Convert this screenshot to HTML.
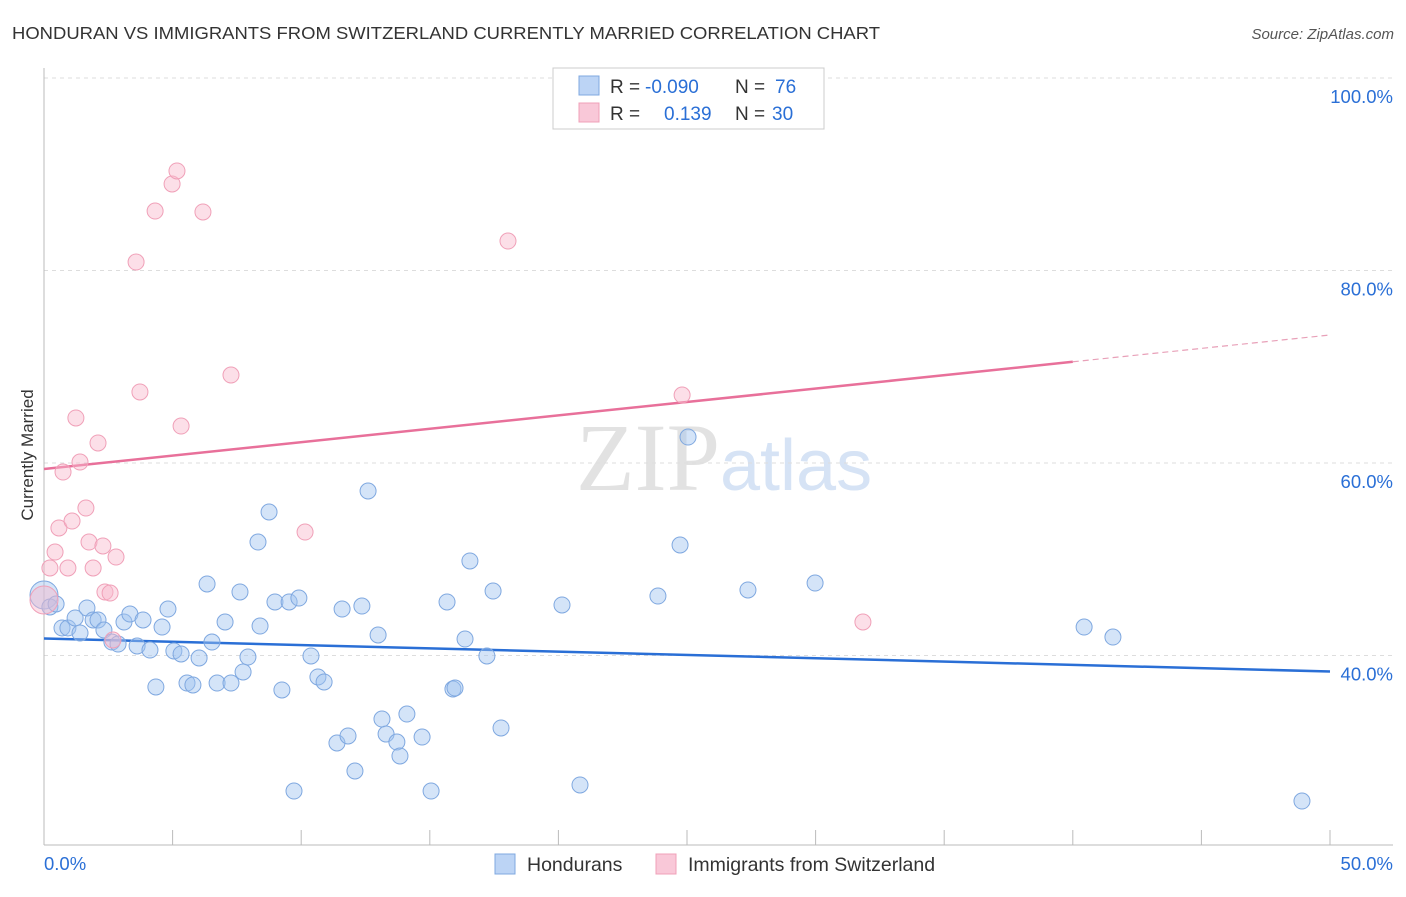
<!DOCTYPE html>
<html><head><meta charset="utf-8"><style>
body{margin:0;background:#fff;font-family:"Liberation Sans",sans-serif;}
</style></head><body>
<svg width="1406" height="892" viewBox="0 0 1406 892" xmlns="http://www.w3.org/2000/svg">
<text x="12" y="39" font-size="17.5" fill="#333" textLength="868" lengthAdjust="spacingAndGlyphs">HONDURAN VS IMMIGRANTS FROM SWITZERLAND CURRENTLY MARRIED CORRELATION CHART</text>
<text x="1394" y="39" font-size="15" fill="#555" font-style="italic" text-anchor="end">Source: ZipAtlas.com</text>
<text x="720" y="490" font-size="96" fill="#e2e2e2" text-anchor="end" font-family="Liberation Serif,serif">ZIP</text>
<text x="720" y="490" font-size="72" fill="#d6e3f5">atlas</text>
<g id="grid"></g><g id="axes"></g><g id="lines"></g><g id="pts"></g>
<text x="-455" y="33" transform="rotate(-90)" font-size="17" fill="#333" text-anchor="middle">Currently Married</text>
<g>
<rect x="553" y="68" width="271" height="61" fill="#fff" stroke="#ccc"/>
<rect x="579" y="76" width="20" height="19" fill="#bcd4f5" stroke="#7fa8e0"/>
<rect x="579" y="103" width="20" height="19" fill="#f9c8d8" stroke="#f0a0b8"/>
<text x="610" y="93" font-size="19" fill="#333">R = <tspan fill="#2a6fd6" x="645">-0.090</tspan><tspan x="735">N = </tspan><tspan fill="#2a6fd6" x="775">76</tspan></text>
<text x="610" y="120" font-size="19" fill="#333">R = <tspan fill="#2a6fd6" x="664">0.139</tspan><tspan x="735">N = </tspan><tspan fill="#2a6fd6" x="772">30</tspan></text>
</g>
<g>
<rect x="495" y="854" width="20" height="20" fill="#bcd4f5" stroke="#7fa8e0"/>
<text x="527" y="871" font-size="19.5" fill="#333">Hondurans</text>
<rect x="656" y="854" width="20" height="20" fill="#f9c8d8" stroke="#f0a0b8"/>
<text x="688" y="871" font-size="19.5" fill="#333">Immigrants from Switzerland</text>
</g>
</svg>
<script>
const yTicks=[40,60,80,100];
const yTickLabels=["40.0%","60.0%","80.0%","100.0%"];
const xTicks=[0,5,10,15,20,25,30,35,40,45,50];
const blueX=[0,.23,.47,.70,.93,1.21,1.40,1.67,1.91,2.10,2.33,2.64,2.88,3.11,3.34,3.62,3.85,4.12,4.35,4.59,4.82,5.05,5.33,5.56,5.79,6.03,6.34,6.53,6.73,7.04,7.27,7.62,7.74,7.93,8.32,8.40,8.75,8.98,9.25,9.53,9.72,9.91,10.38,10.65,10.89,11.39,11.59,11.82,12.09,12.36,12.60,12.99,13.14,13.30,13.72,13.84,14.11,14.70,15.05,15.67,15.90,15.98,16.37,16.56,17.22,17.46,17.77,20.14,20.84,23.87,24.73,25.04,27.37,29.98,40.44,41.56,48.91];
const blueY=[46.29,45.04,45.35,42.86,42.86,43.90,42.34,44.94,43.69,43.69,42.65,41.40,41.19,43.48,44.31,40.99,43.69,40.57,36.73,42.96,44.83,40.47,40.16,37.14,36.94,39.74,47.43,41.40,37.14,43.48,37.14,46.60,38.29,39.84,51.79,43.06,54.91,45.56,36.42,45.56,25.92,45.97,39.95,37.77,37.25,30.91,44.83,31.64,28.00,45.14,57.09,42.13,33.40,31.84,31.01,29.56,33.92,31.53,25.92,45.56,36.52,36.62,41.71,49.82,39.95,46.70,32.47,45.25,26.55,46.18,51.48,62.70,46.81,47.53,42.96,41.92,24.88];
const pinkX=[0,.23,.43,.58,.74,.93,1.09,1.24,1.40,1.63,1.75,1.91,2.10,2.29,2.37,2.57,2.68,2.80,3.58,3.73,4.32,4.98,5.17,5.33,6.18,7.27,10.15,18.04,24.81,31.84];
const pinkY=[45.77,49.09,50.75,53.25,59.06,49.09,53.97,64.68,60.10,55.32,51.79,49.09,62.08,51.38,46.60,46.49,41.61,50.23,80.88,67.38,86.18,88.99,90.34,63.84,86.08,69.14,52.83,83.06,67.06,43.48];
const blueTrend=[41.77,38.34];
const pinkTrend=[59.38,73.3];
const NS="http://www.w3.org/2000/svg";
const X=v=>44+v*25.72, Y=v=>463-(v-60)*9.625;
function mk(p,t,a){const e=document.createElementNS(NS,t);for(const k in a)e.setAttribute(k,a[k]);p.appendChild(e);return e;}
const grid=document.getElementById('grid'),axes=document.getElementById('axes'),lines=document.getElementById('lines'),pts=document.getElementById('pts');
yTicks.forEach((t,i)=>{
 const l=mk(grid,'line',{x1:44,x2:1393,y1:Y(t),y2:Y(t),stroke:'#ddd','stroke-dasharray':'4,4'});
 
 
 const tx=mk(axes,'text',{x:1393,y:Y(t)+25,'font-size':18.5,fill:'#2a6fd6','text-anchor':'end'});tx.textContent=yTickLabels[i];
 
 
});
mk(axes,'line',{x1:44,x2:44,y1:68,y2:845,stroke:'#bbb'});
mk(axes,'line',{x1:44,x2:1393,y1:845,y2:845,stroke:'#bbb'});
xTicks.forEach(t=>{const l=mk(axes,'line',{x1:X(t),x2:X(t),y1:830,y2:845,stroke:'#bbb'});
 
 });
let t0=mk(axes,'text',{x:44,y:870,'font-size':18.5,fill:'#2a6fd6'});t0.textContent="0.0%";


let t1=mk(axes,'text',{x:1393,y:870,'font-size':18.5,fill:'#2a6fd6','text-anchor':'end'});t1.textContent="50.0%";


function pt(x,y,c,s,i){const r=i===0?14:8;const e=mk(pts,'circle',{cx:X(x),cy:Y(y),r:r,fill:c,stroke:s,'stroke-width':1});return e;}
blueX.forEach((x,i)=>{const e=pt(x,blueY[i],'rgba(160,195,240,0.45)','#7fa8e0',i);
 
 });
pinkX.forEach((x,i)=>{const e=pt(x,pinkY[i],'rgba(248,185,205,0.45)','#f0a0b8',i);
 
 });
const bl=mk(lines,'line',{x1:X(0),y1:Y(blueTrend[0]),x2:X(50),y2:Y(blueTrend[1]),stroke:'#2a6fd6','stroke-width':2.5});


const pm=pinkTrend[0]+(pinkTrend[1]-pinkTrend[0])*0.8;
const pl=mk(lines,'line',{x1:X(0),y1:Y(pinkTrend[0]),x2:X(40),y2:Y(pm),stroke:'#e8709a','stroke-width':2.5});


const pd=mk(lines,'line',{x1:X(40),y1:Y(pm),x2:X(50),y2:Y(pinkTrend[1]),stroke:'#e8a0b8','stroke-width':1.2,'stroke-dasharray':'6,4'});


</script>
</body></html>
